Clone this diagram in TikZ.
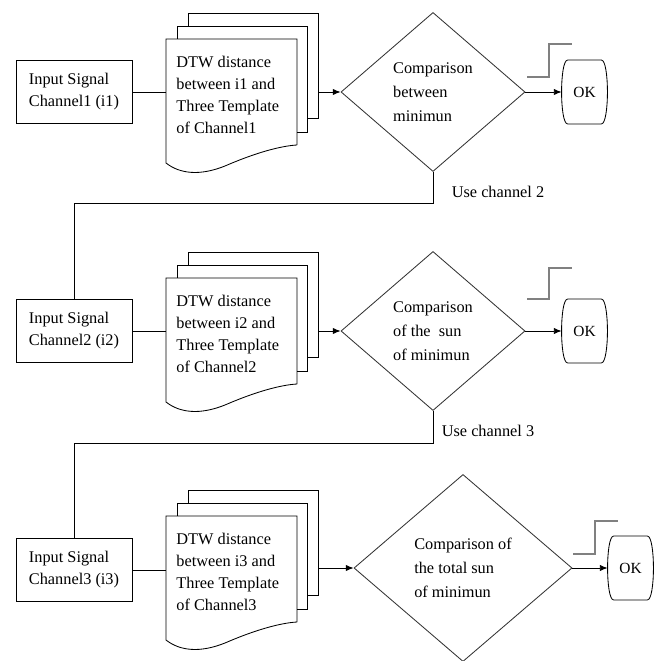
\documentclass[tikz,border=0pt]{standalone}
\usepackage{fontspec}
\setmainfont{Liberation Serif}
\usetikzlibrary{shapes.geometric,arrows.meta}

\tikzset{
  inbox/.style={draw,minimum width=2.9cm,minimum height=1.575cm,align=left,inner sep=0pt},
  doctext/.style={anchor=west,align=left,inner sep=0pt},
  decision/.style={draw=black!80,diamond,inner sep=0pt,align=left,font=\fontsize{11.6}{17}\selectfont},
  okbox/.style={minimum width=1.125cm,minimum height=1.575cm,inner sep=0pt,font=\fontsize{11}{13}\selectfont},
  stepline/.style={draw=black!50,line width=0.9pt},
  flow/.style={-{Latex[length=5.5pt,width=4.5pt]}}
}

\begin{document}
\begin{tikzpicture}[x=0.025cm,y=-0.025cm,line width=0.6pt,font=\fontsize{11.6}{15.6}\selectfont]
\useasboundingbox (0,0) rectangle (662,661);

% Channel 1
  \node[inbox] (in1) at (74,92) {Input Signal\\Channel1 (i1)};
  \draw (188,26) -- (188,13) -- (318,13) -- (318,118) -- (307,118);
  \draw (177,39) -- (177,26) -- (307,26) -- (307,132) -- (297,132);
  \draw (297,145) -- (297,39) -- (166,39) -- (166,163) .. controls (180,174) and (200,176) .. (225,166) .. controls (255,153) and (280,146) .. (297,145);
  \node[doctext] (doc1) at (176,95) {DTW distance\\between i1 and\\Three Template\\of Channel1};
  \coordinate (doc1w) at (166,92); \coordinate (doc1e) at (318,92);
  \node[decision,minimum width=4.6cm,minimum height=3.975cm] (cmp1) at (433,92) {Comparison\\between\\minimun};
  \node[okbox] (ok1) at (584.5,92) {OK};
  \draw[stepline] (527,77) -- (549,77) -- (549,44) -- (572,44);
  \draw (in1) -- (doc1w);
  \draw[flow] (doc1e) -- (cmp1.west);
  \draw[flow] (cmp1.east) -- (ok1);
  \node (use2) at (498,192) {Use channel 2};
  \coordinate (bend1) at (74,203);

% Channel 2
  \node[inbox] (in2) at (74,331) {Input Signal\\Channel2 (i2)};
  \draw (188,265) -- (188,252) -- (318,252) -- (318,357) -- (307,357);
  \draw (177,278) -- (177,265) -- (307,265) -- (307,371) -- (297,371);
  \draw (297,384) -- (297,278) -- (166,278) -- (166,402) .. controls (180,413) and (200,415) .. (225,405) .. controls (255,392) and (280,385) .. (297,384);
  \node[doctext] (doc2) at (176,334) {DTW distance\\between i2 and\\Three Template\\of Channel2};
  \coordinate (doc2w) at (166,331); \coordinate (doc2e) at (318,331);
  \node[decision,minimum width=4.6cm,minimum height=3.975cm] (cmp2) at (433,331) {Comparison\\of the~~sun\\of minimun};
  \node[okbox] (ok2) at (584.5,331) {OK};
  \draw[stepline] (527,299) -- (549,299) -- (549,268) -- (572,268);
  \draw (in2) -- (doc2w);
  \draw[flow] (doc2e) -- (cmp2.west);
  \draw[flow] (cmp2.east) -- (ok2);
  \node (use3) at (488,431) {Use channel 3};
  \coordinate (bend2) at (74,443);

% Channel 3
  \node[inbox] (in3) at (74,570) {Input Signal\\Channel3 (i3)};
  \draw (188,503) -- (188,490) -- (318,490) -- (318,595) -- (307,595);
  \draw (177,516) -- (177,503) -- (307,503) -- (307,609) -- (297,609);
  \draw (297,622) -- (297,516) -- (166,516) -- (166,640) .. controls (180,651) and (200,653) .. (225,643) .. controls (255,630) and (280,623) .. (297,622);
  \node[doctext] (doc3) at (176,572) {DTW distance\\between i3 and\\Three Template\\of Channel3};
  \coordinate (doc3w) at (166,570); \coordinate (doc3e) at (318,568);
  \node[decision,minimum width=5.45cm,minimum height=4.675cm] (cmp3) at (463,568) {Comparison of\\the total sun\\of minimun};
  \node[okbox] (ok3) at (630.5,568) {OK};
  \draw[stepline] (573,554) -- (595,554) -- (595,521) -- (618,521);
  \draw (in3) -- (doc3w);
  \draw[flow] (doc3e) -- (cmp3.west);
  \draw[flow] (cmp3.east) -- (ok3);

% links down to the next channel
  \draw (cmp1.south) |- (bend1) -- (in2.north);
  \draw (cmp2.south) |- (bend2) -- (in3.north);

% OK terminals
  \foreach \n in {ok1,ok2,ok3}
    \draw ([xshift=0.15cm]\n.north west) -- ([xshift=-0.15cm]\n.north east) .. controls ([xshift=0.05cm]\n.north east) and ([xshift=0.05cm]\n.south east) .. ([xshift=-0.15cm]\n.south east) -- ([xshift=0.15cm]\n.south west) .. controls ([xshift=-0.05cm]\n.south west) and ([xshift=-0.05cm]\n.north west) .. cycle;
\end{tikzpicture}
\end{document}
